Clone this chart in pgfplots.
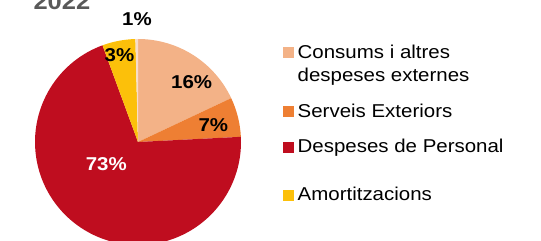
\documentclass[border=0pt]{standalone}
\usepackage{pgfplots}
\pgfplotsset{compat=1.18}
\usepackage{pgfplotstable}
\usepackage{fontspec}
\setmainfont{Liberation Sans}[FakeStretch=1.1]
\definecolor{cSalmon}{HTML}{F3B287}
\definecolor{cOrange}{HTML}{EE7F33}
\definecolor{cRed}{HTML}{BF0D1F}
\definecolor{cYellow}{HTML}{FCC00A}
\definecolor{cPale}{HTML}{F7DCCB}
\definecolor{cTitle}{HTML}{595959}

% slice shares (percent of the full circle), clockwise from 12 o'clock
\pgfplotstableread{
share color
18.0 cSalmon
6.2 cOrange
70.2 cRed
5.2 cYellow
0.4 cPale
}\pietable

\begin{document}
\begin{tikzpicture}
\useasboundingbox (0,0) rectangle (541pt,241pt);
\clip (0,0) rectangle (541pt,241pt);
\begin{axis}[anchor=origin, at={(0pt,0pt)}, x=1pt, y=1pt,
  xmin=0, xmax=541, ymin=0, ymax=241, hide axis, clip=false]
\gdef\pieangle{90}
\pgfplotsinvokeforeach{0,...,4}{
  \pgfplotstablegetelem{#1}{share}\of\pietable
  \pgfmathsetmacro\pieend{\pieangle-3.6*\pgfplotsretval}
  \pgfplotstablegetelem{#1}{color}\of\pietable
  \edef\temp{\noexpand\fill[\pgfplotsretval] (axis cs:138,99) -- ++(\pieangle:103pt) arc[start angle=\pieangle, end angle=\pieend, radius=103pt] -- cycle;}
  \temp
  \global\let\pieangle\pieend
}
% slice labels
\node[font=\bfseries\fontsize{18.6}{20}\selectfont] at (axis cs:191.7,159.3) {16\%};
\node[font=\bfseries\fontsize{18.6}{20}\selectfont] at (axis cs:213.3,116) {7\%};
\node[font=\bfseries\fontsize{18.6}{20}\selectfont, text=white] at (axis cs:106.3,77.2) {73\%};
\node[font=\bfseries\fontsize{18.6}{20}\selectfont] at (axis cs:119.5,186) {3\%};
\node[font=\bfseries\fontsize{18.6}{20}\selectfont] at (axis cs:137,222.2) {1\%};
% title
\node[anchor=base west, inner sep=0, text=cTitle, font=\bfseries\fontsize{23.2}{26}\selectfont] at (axis cs:33.3,231) {2022};
% legend
\fill[cSalmon] (axis cs:282.7,182.7) rectangle (axis cs:293.7,193.7);
\fill[cOrange] (axis cs:282.7,123.7) rectangle (axis cs:293.7,134.7);
\fill[cRed] (axis cs:282.7,88.3) rectangle (axis cs:293.7,99.3);
\fill[cYellow] (axis cs:282.7,40.3) rectangle (axis cs:293.7,51.3);
\node[anchor=base west, inner sep=0, font=\fontsize{18.6}{22}\selectfont] at (axis cs:297.5,182.7) {Consums i altres};
\node[anchor=base west, inner sep=0, font=\fontsize{18.6}{22}\selectfont] at (axis cs:297.5,159.3) {despeses externes};
\node[anchor=base west, inner sep=0, font=\fontsize{18.6}{22}\selectfont] at (axis cs:297.5,123.7) {Serveis Exteriors};
\node[anchor=base west, inner sep=0, font=\fontsize{18.6}{22}\selectfont] at (axis cs:297.5,88.3) {Despeses de Personal};
\node[anchor=base west, inner sep=0, font=\fontsize{18.6}{22}\selectfont] at (axis cs:297.5,40.3) {Amortitzacions};
\end{axis}
\end{tikzpicture}
\end{document}
